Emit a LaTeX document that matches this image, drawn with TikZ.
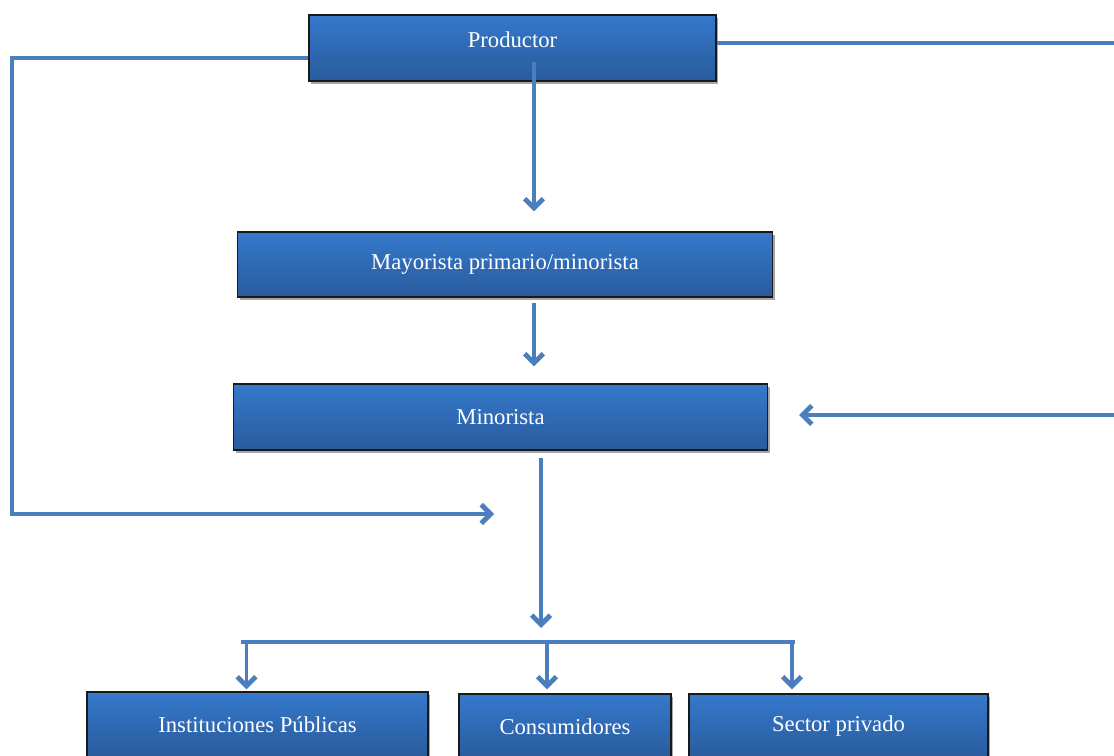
\documentclass[tikz,border=0pt]{standalone}
\usepackage{fontspec}
\setmainfont{Liberation Serif}
\usetikzlibrary{arrows.meta,shadows,calc}
\definecolor{lineblue}{HTML}{4A7EBF}
\definecolor{boxtop}{HTML}{3479CC}
\definecolor{boxbot}{HTML}{2A5B9C}
\tikzset{
  box/.style={draw=black!90, line width=1pt, top color=boxtop, bottom color=boxbot,
    text=white, font=\fontsize{17}{20}\selectfont, inner sep=0pt,
    drop shadow={shadow xshift=1.5pt, shadow yshift=-2pt, opacity=0.35, fill=black}},
  conn/.style={draw=lineblue, line width=2.8pt},
  arr/.style={conn, -{Straight Barb[length=7pt,width=14pt,line width=3.6pt]}},
}
\begin{document}
\begin{tikzpicture}[x=0.75pt,y=-0.75pt]
\fill[white] (0,0) rectangle (1114,756);
\useasboundingbox (0,0) rectangle (1114,756);

\node[box, minimum width=407*0.75pt, minimum height=66*0.75pt] (p) at (512.5,48) {\raisebox{12pt}{Productor}};
\node[box, minimum width=535*0.75pt, minimum height=65*0.75pt] (ma) at (505,264.5) {Mayorista primario/minorista};
\node[box, minimum width=534*0.75pt, minimum height=66*0.75pt] (mi) at (500.5,417) {Minorista};
\node[box, minimum width=341*0.75pt, minimum height=65*0.75pt] (ip) at (257.5,724.5) {Instituciones Públicas};
\node[box, minimum width=212*0.75pt, minimum height=65*0.75pt] (co) at (565,726.5) {Consumidores};
\node[box, minimum width=299*0.75pt, minimum height=65*0.75pt] (sp) at (838.5,726.5) {Sector privado};

% coordinates
\coordinate (pbot) at (534,62);
\coordinate (lefttop) at (12,58);
\coordinate (leftbot) at (12,514);
\coordinate (lefttip) at (494,514);
\coordinate (righttop) at (1118,43);
\coordinate (rightbot) at (1118,415);
\coordinate (mibot) at (541,628);
\coordinate (barL) at (241,642);
\coordinate (barR) at (795,642);
\coordinate (b1) at (246.5,642);
\coordinate (b2) at (547,642);
\coordinate (b3) at (792,642);

% left bypass
\draw[arr] ($(p.west)+(0,10)$) -- (lefttop) -- (leftbot) -- (lefttip);
% right bypass
\draw[arr] ($(p.east)+(0,-5)$) -- (righttop) -- (rightbot) -- ($(mi.east)+(31,-2)$);
% main chain
\draw[arr] (pbot) -- ([shift={(29,-20)}]ma.north);
\draw[arr] ([shift={(29,5)}]ma.south) -- ([shift={(33.5,-17)}]mi.north);
\draw[arr] ([shift={(40.5,7)}]mi.south) -- (mibot);
% distribution bar
\draw[conn] (barL) -- (barR);
\draw[arr] (b1) -- ([shift={(-11,-2)}]ip.north);
\draw[arr] (b2) -- ([shift={(-18,-4)}]co.north);
\draw[arr] (b3) -- ([shift={(-46.5,-4)}]sp.north);
\end{tikzpicture}
\end{document}
